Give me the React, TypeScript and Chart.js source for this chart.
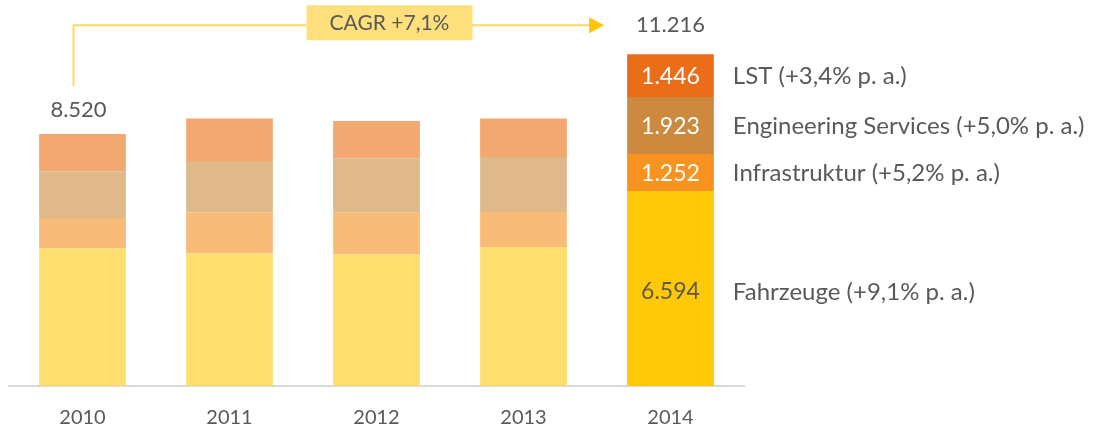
import React, { useEffect, useRef } from "react";
import { Chart, registerables } from "chart.js";

Chart.register(...registerables);

const years = ["2010", "2011", "2012", "2013", "2014"];
const fahrzeuge = [4654, 4482, 4449, 4696, 6594];
const infrastruktur = [1022, 1387, 1421, 1184, 1252];
const engineering = [1582, 1736, 1827, 1861, 1923];
const lst = [1262, 1434, 1263, 1299, 1446];
const seriesNames = [
  "Fahrzeuge (+9,1% p. a.)",
  "Infrastruktur (+5,2% p. a.)",
  "Engineering Services (+5,0% p. a.)",
  "LST (+3,4% p. a.)",
];
const firstTotal = 8520;
const lastTotal = 11216;
const cagrLabel = "CAGR +7,1%";

const lightColors = ["#FDDE6E", "#F8BB78", "#E0B98A", "#F3A872"];
const darkColors = ["#FFC90A", "#F7931E", "#CD8A3F", "#EA6E1A"];
const valueTextColors = ["#5f5a45", "#ffffff", "#ffffff", "#ffffff"];
const FONT = "Lato";
const GRAY = "#595959";

const fmt = (n: number) => String(n).replace(/\B(?=(\d{3})+(?!\d))/g, ".");

const annotPlugin = {
  id: "annot",
  afterDatasetsDraw(chart: any) {
    const ctx = chart.ctx;
    const last = years.length - 1;
    ctx.save();
    ctx.textBaseline = "middle";

    // 2014 segment values and right-side labels
    for (let i = 0; i < 4; i++) {
      const bar = chart.getDatasetMeta(i).data[last];
      const mid = (bar.y + bar.base) / 2;
      ctx.font = `23px ${FONT}`;
      ctx.fillStyle = valueTextColors[i];
      ctx.textAlign = "center";
      ctx.fillText(fmt(chart.data.datasets[i].data[last]), bar.x, mid + 1 + (i === 0 ? 2 : 0));
      ctx.font = `24px ${FONT}`;
      ctx.fillStyle = GRAY;
      ctx.textAlign = "left";
      ctx.fillText(seriesNames[i], bar.x + bar.width / 2 + 19, mid + 1 + (i === 0 ? 3 : 0));
    }

    const topLast = chart.getDatasetMeta(3).data[last];
    const topFirst = chart.getDatasetMeta(3).data[0];
    ctx.font = `22px ${FONT}`;
    ctx.fillStyle = GRAY;
    ctx.textAlign = "center";
    ctx.fillText(fmt(lastTotal), topLast.x, topLast.y - 29);
    ctx.fillText(fmt(firstTotal), topFirst.x - 4, topFirst.y - 24);

    // CAGR connector
    const sx = topFirst.x - 9;
    const sy = topFirst.y - 48;
    const ly = topLast.y - 29;
    const ex = topLast.x - topLast.width / 2 - 23;
    ctx.strokeStyle = "#FFD95A";
    ctx.lineWidth = 2;
    ctx.beginPath();
    ctx.moveTo(sx, sy);
    ctx.lineTo(sx, ly);
    ctx.lineTo(ex - 14, ly);
    ctx.stroke();
    ctx.fillStyle = "#FFC400";
    ctx.beginPath();
    ctx.moveTo(ex - 15, ly - 8);
    ctx.lineTo(ex, ly);
    ctx.lineTo(ex - 15, ly + 8);
    ctx.closePath();
    ctx.fill();

    const bx = chart.scales.x.getPixelForValue(2) + 13;
    ctx.fillStyle = "#FFE07D";
    ctx.fillRect(bx - 83, ly - 20, 166, 35);
    ctx.fillStyle = GRAY;
    ctx.font = `21px ${FONT}`;
    ctx.textAlign = "center";
    ctx.fillText(cagrLabel, bx, ly - 2);
    ctx.restore();
  },
};

export default function App() {
  const ref = useRef<HTMLCanvasElement | null>(null);
  useEffect(() => {
    if (!ref.current) return;
    const series = [fahrzeuge, infrastruktur, engineering, lst];
    const chart = new Chart(ref.current, {
      type: "bar",
      data: {
        labels: years,
        datasets: series.map((d, i) => ({
          label: seriesNames[i],
          data: d,
          backgroundColor: years.map((_, j) => (j === years.length - 1 ? darkColors[i] : lightColors[i])),
          borderWidth: 0,
          stack: "s",
          categoryPercentage: 1,
          barPercentage: 0.59,
        })),
      },
      options: {
        responsive: false,
        animation: false,
        layout: { padding: { left: 9, right: 352, top: 31, bottom: 0 } },
        plugins: { legend: { display: false }, tooltip: { enabled: false } },
        scales: {
          x: {
            stacked: true,
            grid: { display: false, drawTicks: false },
            border: { display: true, color: "#d9d9d9", width: 2 },
            ticks: { font: { family: FONT, size: 20 }, color: GRAY, padding: 20 },
            afterFit: (s: any) => {
              s.height = 46;
            },
          },
          y: { stacked: true, display: false, min: 0, max: 12000 },
        },
      },
      plugins: [annotPlugin],
    });
    return () => chart.destroy();
  }, []);
  return (
    <div style={{ position: "fixed", left: 0, top: 0, width: 1096, height: 432, background: "#fff" }}>
      <canvas ref={ref} width={1096} height={432} style={{ width: 1096, height: 432 }} />
    </div>
  );
}
